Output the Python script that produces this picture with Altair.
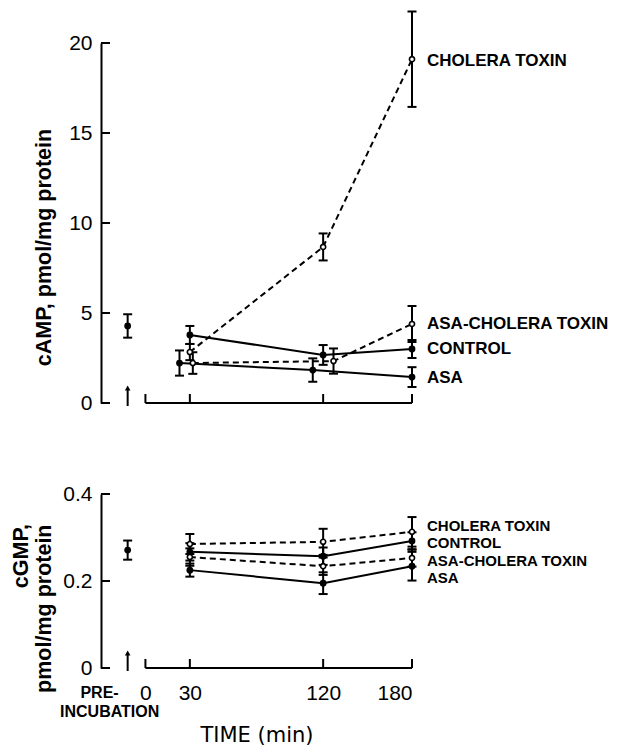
import altair as alt
import pandas as pd

# ---------------- data ----------------
series = ["CHOLERA TOXIN", "ASA-CHOLERA TOXIN", "CONTROL", "ASA"]
filled = {"CHOLERA TOXIN": False, "ASA-CHOLERA TOXIN": False, "CONTROL": True, "ASA": True}
dashed = {"CHOLERA TOXIN": True, "ASA-CHOLERA TOXIN": True, "CONTROL": False, "ASA": False}

pre_time = -12  # position of the pre-incubation sample on the time axis
x_ticks = [0, 30, 120, 180]

# cAMP panel (plotted time positions include the small dodges seen in the figure)
camp_time = {
    "CHOLERA TOXIN": [30, 120, 180],
    "ASA-CHOLERA TOXIN": [32, 127, 180],
    "CONTROL": [30, 120, 180],
    "ASA": [23, 113, 180],
}
camp_mean = {
    "CHOLERA TOXIN": [2.83, 8.67, 19.1],
    "ASA-CHOLERA TOXIN": [2.22, 2.33, 4.39],
    "CONTROL": [3.78, 2.67, 3.0],
    "ASA": [2.22, 1.83, 1.44],
}
camp_err = {
    "CHOLERA TOXIN": [0.45, 0.75, 2.65],
    "ASA-CHOLERA TOXIN": [0.6, 0.7, 1.0],
    "CONTROL": [0.5, 0.55, 0.5],
    "ASA": [0.7, 0.65, 0.55],
}
camp_label_y = [19.0, 4.4, 3.0, 1.4]
camp_pre, camp_pre_err = 4.28, 0.65
camp_ticks = [0, 5, 10, 15, 20]

# cGMP panel
cgmp_time = {s: [30, 120, 180] for s in series}
cgmp_mean = {
    "CHOLERA TOXIN": [0.285, 0.290, 0.313],
    "ASA-CHOLERA TOXIN": [0.255, 0.234, 0.253],
    "CONTROL": [0.267, 0.257, 0.292],
    "ASA": [0.225, 0.195, 0.234],
}
cgmp_err = {
    "CHOLERA TOXIN": [0.023, 0.030, 0.034],
    "ASA-CHOLERA TOXIN": [0.020, 0.020, 0.020],
    "CONTROL": [0.020, 0.020, 0.020],
    "ASA": [0.015, 0.025, 0.033],
}
cgmp_label_y = [0.326, 0.246, 0.288, 0.207]
cgmp_pre, cgmp_pre_err = 0.271, 0.022
cgmp_ticks = [0, 0.2, 0.4]

X_DOMAIN = [-30, 180]
W = 311
TICK_FONT = "Liberation Sans"
BOLD_FONT = "Liberation Sans"


def panel(times, means, errs, label_y, pre, pre_err, ydom, yticks, height, title,
          title_y, title_align, label_size, bottom, extra_title=None):
    rows = []
    for s in series:
        for t, m, e in zip(times[s], means[s], errs[s]):
            rows.append({"series": s, "t": t, "m": m, "lo": m - e, "hi": m + e,
                         "filled": filled[s], "dashed": dashed[s]})
    rows.append({"series": "PRE", "t": pre_time, "m": pre, "lo": pre - pre_err,
                 "hi": pre + pre_err, "filled": True, "dashed": False})
    df = pd.DataFrame(rows)
    lab = pd.DataFrame({"series": series, "t": [180] * 4, "y": label_y})

    xs = alt.Scale(domain=X_DOMAIN, nice=False, zero=False)
    ys = alt.Scale(domain=ydom, nice=False, zero=False)

    def XN(f):
        if bottom:
            return alt.X(f, scale=xs)
        return alt.X(f, scale=xs, axis=None)

    def YN(f):
        return alt.Y(f, scale=ys)

    if bottom:
        xaxis = alt.Axis(values=x_ticks, ticks=False, domain=False, grid=False,
                         labelFont=TICK_FONT, labelFontSize=21, labelPadding=14,
                         labelColor="black", title="TIME   (min)",
                         titleFont="DejaVu Sans", titleFontSize=21,
                         titleFontWeight="normal", titlePadding=21, titleColor="black")
        X = alt.X("t:Q", scale=xs, axis=xaxis)
    else:
        X = XN("t:Q")
    yaxis = alt.Axis(values=yticks, ticks=False, domain=True, domainColor="black",
                     domainWidth=2, grid=False, labelFont=TICK_FONT, labelFontSize=21,
                     labelColor="black", labelPadding=9,
                     labelExpr="datum.value == 0 ? '0' : datum.label", title=title,
                     titleFont=BOLD_FONT, titleFontSize=21.5, titleFontWeight="bold",
                     titleColor="black", titleAngle=-90, titleX=-46,
                     titleY=title_y, titleBaseline="bottom", titleAlign=title_align)
    Y = alt.Y("m:Q", scale=ys, axis=yaxis)

    base = alt.Chart(df)
    solid = base.transform_filter("!datum.dashed && datum.series != 'PRE'").mark_line(
        color="black", strokeWidth=2).encode(x=X, y=Y, detail="series:N")
    dash = base.transform_filter("datum.dashed").mark_line(
        color="black", strokeWidth=2, strokeDash=[6, 4]).encode(
        x=XN("t:Q"), y=YN("m:Q"), detail="series:N")
    bars = base.mark_rule(color="black", strokeWidth=2).encode(
        x=XN("t:Q"), y=YN("lo:Q"), y2="hi:Q")
    cap_hi = base.mark_rule(color="black", strokeWidth=2, xOffset=-4.5, x2Offset=4.5).encode(
        x=XN("t:Q"), x2="t:Q", y=YN("hi:Q"))
    cap_lo = base.mark_rule(color="black", strokeWidth=2, xOffset=-4.5, x2Offset=4.5).encode(
        x=XN("t:Q"), x2="t:Q", y=YN("lo:Q"))
    dots = base.transform_filter("datum.filled").mark_point(
        shape="circle", filled=True, color="black", size=46, opacity=1).encode(
        x=XN("t:Q"), y=YN("m:Q"))
    rings = base.transform_filter("!datum.filled").mark_point(
        shape="circle", filled=True, fill="white", stroke="black", strokeWidth=1.6,
        size=26, opacity=1).encode(x=XN("t:Q"), y=YN("m:Q"))
    labels = alt.Chart(lab).mark_text(
        align="left", baseline="middle", dx=15, font=BOLD_FONT, fontWeight="bold",
        fontSize=label_size, color="black").encode(
        x=XN("t:Q"), y=YN("y:Q"), text="series:N")

    # inward y ticks
    ytk = alt.Chart(pd.DataFrame({"v": yticks})).mark_rule(color="black", strokeWidth=2).encode(
        y=YN("v:Q"), x=alt.value(0), x2=alt.value(9))
    # broken time axis: line from 0 to 180 with upward ticks
    xline = alt.Chart(pd.DataFrame({"a": [x_ticks[0]], "b": [x_ticks[-1]], "v": [ydom[0]]})).mark_rule(
        color="black", strokeWidth=2).encode(x=XN("a:Q"), x2="b:Q", y=YN("v:Q"))
    xtk = alt.Chart(pd.DataFrame({"t": x_ticks})).mark_rule(color="black", strokeWidth=2).encode(
        x=XN("t:Q"), y=alt.value(height), y2=alt.value(height - 9))
    # pre-incubation arrow
    arr = pd.DataFrame({"t": [pre_time]})
    shaft = alt.Chart(arr).mark_rule(color="black", strokeWidth=2).encode(
        x=XN("t:Q"), y=alt.value(height + 3), y2=alt.value(height - 15))
    head = alt.Chart(arr).mark_point(shape="triangle-up", filled=True, color="black",
                                     size=32, opacity=1).encode(
        x=XN("t:Q"), y=alt.value(height - 15))

    layers = [solid, ytk, xline, xtk, shaft, head, bars, cap_hi, cap_lo, dash, dots, rings, labels]
    if bottom:
        pre_lab = pd.DataFrame({"t": [pre_time], "a": ["PRE-"], "b": ["INCUBATION"]})
        l1 = alt.Chart(pre_lab).mark_text(
            align="right", baseline="middle", dx=-9, font=BOLD_FONT, fontWeight="bold",
            fontSize=16, color="black").encode(
            x=XN("t:Q"), y=alt.value(height + 25), text="a:N")
        l2 = alt.Chart(pre_lab).mark_text(
            align="center", baseline="middle", dx=-18, font=BOLD_FONT, fontWeight="bold",
            fontSize=16, color="black").encode(
            x=XN("t:Q"), y=alt.value(height + 44), text="b:N")
        layers += [l1, l2]
    if extra_title:
        et = alt.Chart(pd.DataFrame({"txt": [extra_title]})).mark_text(
            angle=270, align="right", baseline="middle", font=BOLD_FONT, fontWeight="bold",
            fontSize=21.5, color="black").encode(
            x=alt.value(-79), y=alt.value(title_y), text="txt:N")
        layers.append(et)
    return alt.layer(*layers).properties(width=W, height=height)


top = panel(camp_time, camp_mean, camp_err, camp_label_y, camp_pre, camp_pre_err,
            [0, 20], camp_ticks, 360, "cAMP, pmol/mg protein", 204, "center", 17, False)
bottom = panel(cgmp_time, cgmp_mean, cgmp_err, cgmp_label_y, cgmp_pre, cgmp_pre_err,
               [0, 0.4], cgmp_ticks, 174, "pmol/mg protein", 30, "right", 15, True,
               extra_title="cGMP,")

chart = alt.vconcat(top, bottom, spacing=70).properties(
    padding={"left": 3, "top": 2, "right": 0, "bottom": 0},
    background="white").configure_view(stroke=None).configure_axis(grid=False)

chart.save("out.html", embed_options={"renderer": "svg", "actions": False})
